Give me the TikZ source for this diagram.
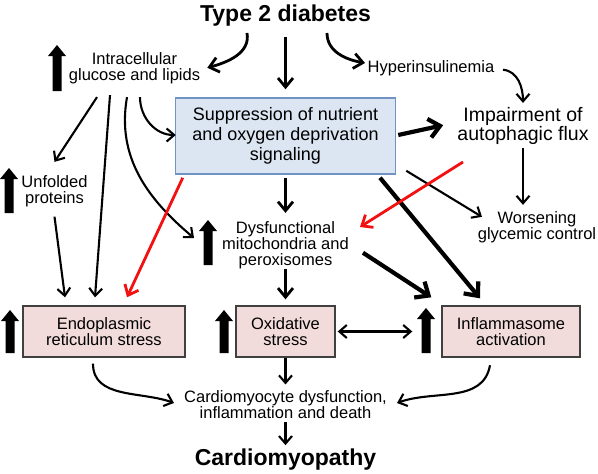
\documentclass[tikz,border=0pt]{standalone}
\usepackage{fontspec}
\setmainfont{Liberation Sans}
\usetikzlibrary{arrows.meta}
\definecolor{boxblue}{HTML}{7193C4}
\definecolor{fillblue}{HTML}{DCE6F2}
\definecolor{fillpink}{HTML}{F2DCDB}
\definecolor{boxgray}{HTML}{404040}
\definecolor{redarr}{HTML}{F21010}
\newcommand{\upblock}[3]{\fill ({#1-4.5},{-#2}) -- ({#1-4.5},{-(#3+11)}) -- ({#1-9},{-(#3+11)}) -- (#1,{-#3}) -- ({#1+9},{-(#3+11)}) -- ({#1+4.5},{-(#3+11)}) -- ({#1+4.5},{-#2}) -- cycle;}
\begin{document}
\begin{tikzpicture}[x=1pt,y=1pt,
  txt/.style={font=\fontsize{16.5}{16}\selectfont, align=center, inner sep=0pt},
  ttl/.style={font=\bfseries\fontsize{23}{23}\selectfont, inner sep=0pt},
  bluebox/.style={draw=boxblue, fill=fillblue, line width=1.5pt, minimum width=220pt, minimum height=76pt, align=center, inner sep=0pt, font=\fontsize{18}{20}\selectfont},
  pinkbox/.style={draw=boxgray, fill=fillpink, line width=1.4pt, minimum height=51pt, align=center, inner sep=0pt, font=\fontsize{16.5}{16}\selectfont},
  ln/.style={line width=2.1pt, >={Straight Barb[length=7.5pt,width=13pt]}, ->},
  md/.style={line width=2.8pt, >={Straight Barb[length=9pt,width=15pt]}, ->},
  tk/.style={line width=4.2pt, >={Straight Barb[length=11pt,width=19pt]}, ->},
  rd/.style={md, draw=redarr}
]
\useasboundingbox (0,0) rectangle (598,-474);

% nodes
\node[ttl, anchor=base] (title) at (285.5,-21) {Type 2 diabetes};
\node[txt] (glu) at (134.5,-67.75) {Intracellular\\glucose and lipids};
\node[txt, anchor=base] (hyp) at (431,-72) {Hyperinsulinemia};
\node[txt, font=\fontsize{19.5}{19}\selectfont] (imp) at (523,-126.2) {Impairment of\\autophagic flux};
\node[txt] (wor) at (537,-226.75) {Worsening\\glycemic control};
\node[bluebox] (sup) at (285.5,-136) {Suppression of nutrient\\and oxygen deprivation\\signaling};
\node[txt] (unf) at (54.5,-190.75) {Unfolded\\proteins};
\node[txt] (dys) at (285.5,-244.75) {Dysfunctional\\mitochondria and\\peroxisomes};
\node[pinkbox, minimum width=162pt] (er) at (104,-331.5) {Endoplasmic\\reticulum stress};
\node[pinkbox, minimum width=99pt] (ox) at (285.5,-331.5) {Oxidative\\stress};
\node[pinkbox, minimum width=138pt] (inf) at (511,-331.5) {Inflammasome\\activation};
\node[txt] (car) at (285.5,-404.75) {Cardiomyocyte dysfunction,\\inflammation and death};
\node[ttl, anchor=base] (cm) at (285.5,-465) {Cardiomyopathy};

% up arrows
\upblock{57}{91}{45}
\upblock{9}{213}{168}
\upblock{208}{265}{220}
\upblock{10}{353}{310}
\upblock{224}{353}{310}
\upblock{426}{353}{308}

% connectors
\draw[md] ([xshift=-38.5pt,yshift=-7pt]title.south) to[out=-80,in=15] ([xshift=7pt]glu.east);
\draw[md] ([yshift=-11pt]title.south) -- ([yshift=8pt]sup.north);
\draw[md] ([xshift=41.5pt,yshift=-7pt]title.south) to[out=-90,in=170] ([xshift=-2.5pt,yshift=4.75pt]hyp.west);
\draw[ln] ([xshift=8.5pt,yshift=-2pt]hyp.east) to[out=-5,in=90] ([yshift=4.5pt]imp.north);
\draw[ln] ([yshift=-3pt]imp.south) -- ([xshift=-14pt,yshift=6pt]wor.north);

\draw[ln] ([xshift=-37.5pt,yshift=-13.5pt]glu.south) -- ([yshift=13pt]unf.north);
\draw[ln] ([xshift=-24.5pt,yshift=-11.5pt]glu.south) -- ([xshift=-9pt,yshift=8pt]er.north);
\draw[ln] ([yshift=-10pt]unf.south) -- ([xshift=-39pt,yshift=8pt]er.north);
\draw[ln] ([xshift=-7.5pt,yshift=-13.5pt]glu.south) to[out=-100,in=140] ([xshift=-28pt,yshift=6.75pt]dys.west);
\draw[ln] ([xshift=5.5pt,yshift=-13.5pt]glu.south) to[out=-90,in=180] ([xshift=1pt,yshift=1pt]sup.west);

\draw[tk] ([xshift=2pt,yshift=1pt]sup.east) -- ([xshift=-14pt,yshift=1pt]imp.west);
\draw[md] ([yshift=-3pt]sup.south) -- ([yshift=8pt]dys.north);
\draw[ln] ([xshift=10pt,yshift=4pt]sup.south east) -- ([xshift=-55pt,yshift=-6pt]wor.north);
\draw[tk] ([xshift=94.5pt,yshift=-3pt]sup.south) -- ([xshift=-31pt,yshift=7pt]inf.north);

\draw[md] (dys.south) -- ([yshift=6pt]ox.north);
\draw[tk] ([xshift=14pt,yshift=-8pt]dys.east) -- ([xshift=-10pt,yshift=8pt]inf.north west);

\draw[rd] ([xshift=8pt,yshift=-3pt]sup.south west) -- ([xshift=23pt,yshift=8pt]er.north);
\draw[rd] ([xshift=-60pt,yshift=-17pt]imp.south) -- ([xshift=11pt,yshift=17.75pt]dys.east);

\draw[ln,<->] ([xshift=2pt]ox.east) -- ([xshift=-29pt]inf.west);
\draw[ln] (ox.south) -- ([yshift=6pt]car.north);
\draw[ln] ([xshift=-11pt,yshift=-6pt]er.south) to[out=-90,in=160] ([xshift=-10pt,yshift=1.75pt]car.west);
\draw[ln] ([xshift=-21pt,yshift=-7.5pt]inf.south) to[out=-100,in=20] ([xshift=10pt,yshift=1.75pt]car.east);
\draw[ln] ([yshift=-3pt]car.south) -- ([yshift=3pt]cm.north);
\end{tikzpicture}
\end{document}
